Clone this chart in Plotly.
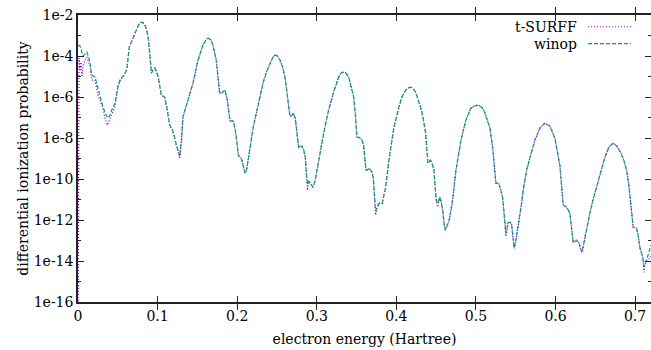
import plotly.graph_objects as go

# ---------------- data ----------------
energy_winop = [0.0000,0.0025,0.0063,0.0113,0.0151,0.0172,0.0214,0.0251,0.0276,0.0314,
    0.0371,0.0396,0.0423,0.0465,0.0506,0.0540,0.0582,0.0616,0.0644,0.0678,
    0.0729,0.0766,0.0804,0.0835,0.0863,0.0886,0.0905,0.0923,0.0942,0.0967,
    0.0992,0.1011,0.1046,0.1089,0.1118,0.1152,0.1193,0.1219,0.1240,0.1278,
    0.1300,0.1319,0.1357,0.1382,0.1445,0.1508,0.1570,0.1608,0.1633,0.1671,
    0.1696,0.1737,0.1765,0.1780,0.1805,0.1847,0.1876,0.1910,0.1951,0.1972,
    0.1994,0.2014,0.2056,0.2079,0.2098,0.2117,0.2139,0.2167,0.2202,0.2265,
    0.2328,0.2368,0.2412,0.2450,0.2475,0.2506,0.2538,0.2575,0.2601,0.2626,
    0.2642,0.2663,0.2685,0.2705,0.2730,0.2751,0.2773,0.2795,0.2814,0.2837,
    0.2856,0.2871,0.2883,0.2902,0.2918,0.2952,0.2981,0.3024,0.3053,0.3087,
    0.3149,0.3212,0.3275,0.3304,0.3338,0.3367,0.3401,0.3430,0.3464,0.3486,
    0.3505,0.3524,0.3547,0.3568,0.3589,0.3606,0.3618,0.3634,0.3656,0.3677,
    0.3693,0.3710,0.3725,0.3740,0.3756,0.3781,0.3823,0.3844,0.3866,0.3907,
    0.3970,0.4033,0.4070,0.4117,0.4146,0.4180,0.4209,0.4242,0.4271,0.4305,
    0.4334,0.4368,0.4384,0.4397,0.4431,0.4454,0.4472,0.4489,0.4501,0.4519,
    0.4548,0.4567,0.4582,0.4598,0.4614,0.4636,0.4664,0.4686,0.4707,0.4749,
    0.4780,0.4812,0.4874,0.4937,0.4981,0.5021,0.5050,0.5084,0.5113,0.5147,
    0.5176,0.5210,0.5232,0.5251,0.5285,0.5314,0.5337,0.5355,0.5377,0.5406,
    0.5427,0.5448,0.5465,0.5481,0.5503,0.5531,0.5574,0.5594,0.5637,0.5678,
    0.5741,0.5804,0.5867,0.5930,0.5992,0.6055,0.6078,0.6097,0.6140,0.6181,
    0.6202,0.6223,0.6265,0.6298,0.6313,0.6332,0.6351,0.6369,0.6401,0.6432,
    0.6470,0.6516,0.6579,0.6621,0.6671,0.6725,0.6771,0.6822,0.6859,0.6893,
    0.6922,0.6947,0.6976,0.7019,0.7041,0.7060,0.7082,0.7098,0.7111,0.7123,
    0.7145,0.7161,0.7177,0.7198]

prob_winop = [3.43e-4,3.06e-4,9.95e-5,1.56e-4,5.07e-5,1.17e-5,9.38e-6,2.72e-6,9.9e-7,3.21e-7,
    9.31e-8,1.17e-7,2.29e-7,5.04e-7,4.27e-6,8.38e-6,1.17e-5,2.58e-5,2.74e-4,6.01e-4,
    1.85e-3,3.63e-3,4.55e-3,3.63e-3,1.85e-3,6.01e-4,8.89e-5,1.47e-5,2.06e-5,2.58e-5,
    1.47e-5,8.38e-6,1.24e-6,9.9e-7,2.87e-7,4.25e-8,2.16e-8,7.85e-9,4.0e-9,1.30e-9,
    7.85e-9,1.04e-7,3.60e-7,7.06e-7,4.77e-6,6.34e-5,3.43e-4,6.01e-4,7.53e-4,6.01e-4,
    3.43e-4,6.34e-5,6.68e-6,1.55e-6,1.55e-6,2.17e-6,7.06e-7,6.65e-8,6.65e-8,3.03e-8,
    7.85e-9,1.45e-9,9.27e-10,3.37e-10,1.92e-10,2.69e-10,8.28e-10,4.48e-9,3.39e-8,5.04e-7,
    5.35e-6,1.64e-5,4.53e-5,8.89e-5,1.11e-4,9.95e-5,6.34e-5,2.58e-5,9.38e-6,1.73e-6,
    7.06e-7,1.17e-7,1.17e-7,1.64e-7,9.31e-8,1.38e-8,3.19e-9,4.0e-9,4.0e-9,2.55e-9,
    1.16e-9,1.53e-10,5.57e-11,7.82e-11,6.24e-11,3.98e-11,8.73e-11,8.28e-10,3.19e-9,1.73e-8,
    2.29e-7,1.73e-6,9.38e-6,1.47e-5,1.64e-5,1.47e-5,9.38e-6,3.81e-6,9.9e-7,1.31e-7,
    1.10e-8,1.10e-8,9.84e-9,7.85e-9,4.48e-9,8.28e-10,2.69e-10,2.69e-10,3.37e-10,2.69e-10,
    2.15e-10,1.22e-10,1.62e-11,2.67e-12,3.75e-12,6.58e-12,6.58e-12,1.62e-11,3.98e-11,8.28e-10,
    3.39e-8,3.21e-7,9.9e-7,2.17e-6,2.72e-6,3.05e-6,2.72e-6,1.73e-6,8.83e-7,3.21e-7,
    1.04e-7,1.73e-8,2.55e-9,5.92e-10,8.28e-10,5.28e-10,2.69e-10,4.98e-11,9.23e-12,6.58e-12,
    1.29e-11,6.58e-12,2.99e-12,7.76e-13,3.16e-13,4.95e-13,9.73e-13,2.99e-12,9.23e-12,2.69e-10,
    1.45e-9,7.85e-9,7.45e-8,2.87e-7,3.60e-7,4.02e-7,3.60e-7,2.87e-7,1.64e-7,7.45e-8,
    3.03e-8,3.57e-9,4.72e-10,6.24e-11,6.24e-11,2.84e-11,1.15e-11,2.14e-12,2.25e-13,7.76e-13,
    7.76e-13,6.2e-13,1.80e-13,4.17e-14,1.03e-13,4.43e-13,6.58e-12,2.84e-11,2.69e-10,1.04e-9,
    7.85e-9,3.03e-8,5.31e-8,3.79e-8,9.84e-9,4.72e-10,4.98e-11,5.25e-12,4.2e-12,2.14e-12,
    3.95e-13,8.18e-14,1.03e-13,7.31e-14,4.17e-14,2.66e-14,5.85e-14,1.44e-13,4.95e-13,2.14e-12,
    9.23e-12,3.98e-11,2.69e-10,1.16e-9,3.57e-9,5.6e-9,4.0e-9,1.82e-9,8.28e-10,2.69e-10,
    4.98e-11,5.25e-12,4.43e-13,3.95e-13,1.61e-13,4.67e-14,2.38e-14,1.36e-14,5.51e-15,8.65e-15,
    1.08e-14,1.90e-14,3.33e-14,5.85e-14]

energy_tsurff = [0.0000,0.0013,0.0025,0.0038,0.0050,0.0063,0.0088,0.0113,0.0151,0.0172,
    0.0214,0.0251,0.0276,0.0314,0.0339,0.0371,0.0396,0.0423,0.0465,0.0506,0.0540,
    0.0582,0.0616,0.0644,0.0678,
    0.0729,0.0766,0.0804,0.0835,0.0863,0.0886,0.0905,0.0923,0.0942,0.0967,
    0.0992,0.1011,0.1046,0.1089,0.1118,0.1152,0.1193,0.1219,0.1240,0.1278,
    0.1300,0.1319,0.1357,0.1382,0.1445,0.1508,0.1570,0.1608,0.1633,0.1671,
    0.1696,0.1737,0.1765,0.1780,0.1805,0.1847,0.1876,0.1910,0.1951,0.1972,
    0.1994,0.2014,0.2056,0.2079,0.2098,0.2117,0.2139,0.2167,0.2202,0.2265,
    0.2328,0.2368,0.2412,0.2450,0.2475,0.2506,0.2538,0.2575,0.2601,0.2626,
    0.2642,0.2663,0.2685,0.2705,0.2730,0.2751,0.2773,0.2795,0.2814,0.2837,
    0.2856,0.2871,0.2883,0.2902,0.2918,0.2952,0.2981,0.3024,0.3053,0.3087,
    0.3149,0.3212,0.3275,0.3304,0.3338,0.3367,0.3401,0.3430,0.3464,0.3486,
    0.3505,0.3524,0.3547,0.3568,0.3589,0.3606,0.3618,0.3634,0.3656,0.3677,
    0.3693,0.3710,0.3725,0.3740,0.3756,0.3781,0.3823,0.3844,0.3866,0.3907,
    0.3970,0.4033,0.4070,0.4117,0.4146,0.4180,0.4209,0.4242,0.4271,0.4305,
    0.4334,0.4368,0.4384,0.4397,0.4431,0.4454,0.4472,0.4489,0.4501,0.4519,
    0.4548,0.4567,0.4582,0.4598,0.4614,0.4636,0.4664,0.4686,0.4707,0.4749,
    0.4780,0.4812,0.4874,0.4937,0.4981,0.5021,0.5050,0.5084,0.5113,0.5147,
    0.5176,0.5210,0.5232,0.5251,0.5285,0.5314,0.5337,0.5355,0.5377,0.5406,
    0.5427,0.5448,0.5465,0.5481,0.5503,0.5531,0.5574,0.5594,0.5637,0.5678,
    0.5741,0.5804,0.5867,0.5930,0.5992,0.6055,0.6078,0.6097,0.6140,0.6181,
    0.6202,0.6223,0.6265,0.6298,0.6313,0.6332,0.6351,0.6369,0.6401,0.6432,
    0.6470,0.6516,0.6579,0.6621,0.6671,0.6725,0.6771,0.6822,0.6859,0.6893,
    0.6922,0.6947,0.6976,0.7019,0.7041,0.7060,0.7082,0.7098,0.7111,0.7123,
    0.7145,0.7161,0.7177,0.7198]

prob_tsurff = [1e-18,7.94e-5,2.06e-5,5.07e-5,1.05e-5,3.23e-5,6.34e-5,8.89e-5,3.23e-5,6.68e-6,
    6.68e-6,1.24e-6,7.06e-7,2.87e-7,9.31e-8,4.25e-8,7.45e-8,1.31e-7,3.60e-7,3.40e-6,7.48e-6,
    1.17e-5,2.58e-5,2.74e-4,6.01e-4,
    1.85e-3,3.63e-3,4.55e-3,3.63e-3,1.85e-3,6.01e-4,8.89e-5,1.47e-5,2.06e-5,2.58e-5,
    1.47e-5,8.38e-6,1.24e-6,9.9e-7,2.87e-7,4.25e-8,2.16e-8,7.85e-9,4.0e-9,1.04e-9,
    7.85e-9,1.04e-7,3.60e-7,7.06e-7,4.77e-6,6.34e-5,3.43e-4,6.01e-4,7.53e-4,6.01e-4,
    3.43e-4,6.34e-5,6.68e-6,1.55e-6,1.55e-6,2.17e-6,7.06e-7,6.65e-8,6.65e-8,3.03e-8,
    7.85e-9,1.45e-9,9.27e-10,3.37e-10,1.92e-10,2.69e-10,8.28e-10,4.48e-9,3.39e-8,5.04e-7,
    5.35e-6,1.64e-5,4.53e-5,8.89e-5,1.11e-4,9.95e-5,6.34e-5,2.58e-5,9.38e-6,1.73e-6,
    7.06e-7,1.17e-7,1.17e-7,1.64e-7,9.31e-8,1.38e-8,3.19e-9,4.0e-9,4.0e-9,2.55e-9,
    1.16e-9,1.53e-10,2.84e-11,7.82e-11,6.24e-11,3.98e-11,8.73e-11,8.28e-10,3.19e-9,1.73e-8,
    2.29e-7,1.73e-6,9.38e-6,1.47e-5,1.64e-5,1.47e-5,9.38e-6,3.81e-6,9.9e-7,1.31e-7,
    1.10e-8,1.10e-8,9.84e-9,7.85e-9,4.48e-9,8.28e-10,2.69e-10,2.69e-10,3.37e-10,2.69e-10,
    2.15e-10,1.22e-10,1.62e-11,1.71e-12,3.75e-12,6.58e-12,6.58e-12,1.62e-11,3.98e-11,8.28e-10,
    3.39e-8,3.21e-7,9.9e-7,2.17e-6,2.72e-6,3.05e-6,2.72e-6,1.73e-6,8.83e-7,3.21e-7,
    1.04e-7,1.73e-8,2.55e-9,5.92e-10,8.28e-10,5.28e-10,2.69e-10,4.98e-11,9.23e-12,4.2e-12,
    1.29e-11,6.58e-12,2.99e-12,7.76e-13,3.16e-13,4.95e-13,9.73e-13,2.99e-12,9.23e-12,2.69e-10,
    1.45e-9,7.85e-9,7.45e-8,2.87e-7,3.60e-7,4.02e-7,3.60e-7,2.87e-7,1.64e-7,7.45e-8,
    3.03e-8,3.57e-9,4.72e-10,6.24e-11,6.24e-11,2.84e-11,1.15e-11,2.14e-12,1.61e-13,7.76e-13,
    7.76e-13,6.2e-13,1.80e-13,4.17e-14,1.03e-13,4.43e-13,6.58e-12,2.84e-11,2.69e-10,1.04e-9,
    7.85e-9,3.03e-8,5.31e-8,3.79e-8,9.84e-9,4.72e-10,4.98e-11,5.25e-12,4.2e-12,2.14e-12,
    3.95e-13,8.18e-14,1.03e-13,7.31e-14,4.17e-14,2.66e-14,5.85e-14,1.44e-13,4.95e-13,2.14e-12,
    9.23e-12,3.98e-11,2.69e-10,1.16e-9,3.57e-9,5.6e-9,4.0e-9,1.82e-9,8.28e-10,2.69e-10,
    4.98e-11,5.25e-12,4.43e-13,3.95e-13,1.61e-13,4.67e-14,2.38e-14,1.36e-14,2.81e-15,6.2e-15,
    8.65e-15,1.08e-14,1.36e-14,1.70e-14]

x_tick_vals = [0, 0.1, 0.2, 0.3, 0.4, 0.5, 0.6, 0.7]
x_tick_text = ["0", "0.1", "0.2", "0.3", "0.4", "0.5", "0.6", "0.7"]
y_tick_vals = [1e-16, 1e-14, 1e-12, 1e-10, 1e-8, 1e-6, 1e-4, 1e-2]
y_tick_text = ["1e-16", "1e-14", "1e-12", "1e-10", "1e-8", "1e-6", "1e-4", "1e-2"]
y_minor_vals = [1e-15, 1e-13, 1e-11, 1e-9, 1e-7, 1e-5, 1e-3]

series_names = ["t-SURFF", "winop"]
series_colors = ["#9400d3", "#009e73"]

# ---------------- figure ----------------
FONT = "'DejaVu Serif', 'Liberation Serif', serif"
FS = 14
AX = "#222222"

fig = go.Figure()
fig.add_trace(go.Scatter(x=energy_tsurff, y=prob_tsurff, mode="lines", name=series_names[0],
                         line=dict(color=series_colors[0], width=1.3, dash="1px,2px"),
                         showlegend=False))
fig.add_trace(go.Scatter(x=energy_winop, y=prob_winop, mode="lines", name=series_names[1],
                         line=dict(color=series_colors[1], width=1.2, dash="4px,2px"),
                         showlegend=False))
# helper trace so the mirrored right axis is drawn
fig.add_trace(go.Scatter(x=[], y=[], yaxis="y2", showlegend=False, hoverinfo="skip"))

yax_common = dict(type="log", range=[-16, -2], tickvals=y_tick_vals, ticks="inside",
                  ticklen=6, tickwidth=1, tickcolor=AX, showgrid=False, zeroline=False,
                  minor=dict(tickvals=y_minor_vals, ticks="inside", ticklen=3,
                             tickwidth=1, tickcolor=AX, showgrid=False))

fig.update_layout(
    width=651, height=350,
    margin=dict(l=78, r=0, t=15, b=48),
    paper_bgcolor="white", plot_bgcolor="white",
    font=dict(family=FONT, size=FS, color="black"),
    xaxis=dict(range=[0, 0.72], tickvals=x_tick_vals, ticktext=x_tick_text,
               ticks="inside", ticklen=6, tickwidth=1, tickcolor=AX,
               showline=True, linecolor=AX, linewidth=1.5, mirror="allticks",
               showgrid=False, zeroline=False,
               tickfont=dict(family=FONT, size=FS),
               title=dict(text="electron energy (Hartree)", standoff=12,
                          font=dict(family=FONT, size=FS))),
    yaxis=dict(**yax_common, ticktext=y_tick_text, showline=True, linecolor=AX,
               linewidth=1.5, mirror=False,
               tickfont=dict(family=FONT, size=FS),
               title=dict(text="differential ionization probability", standoff=2,
                          font=dict(family=FONT, size=FS))),
    yaxis2=dict(**yax_common, overlaying="y", side="right", anchor="x",
                showticklabels=False, showline=False),
)

# gnuplot-style key (text right-aligned, sample line on the right)
key_rows = [0.959, 0.900]
for name, color, dash, yy in zip(series_names, series_colors, ["1px,2px", "4px,2px"], key_rows):
    fig.add_annotation(xref="paper", yref="paper", x=0.874, y=yy, text=name,
                       showarrow=False, xanchor="right", yanchor="middle",
                       font=dict(family=FONT, size=FS, color="black"))
    fig.add_shape(type="line", xref="paper", yref="paper", x0=0.890, x1=0.965,
                  y0=yy, y1=yy, line=dict(color=color, width=1.2, dash=dash))

fig.write_html("out.html")
